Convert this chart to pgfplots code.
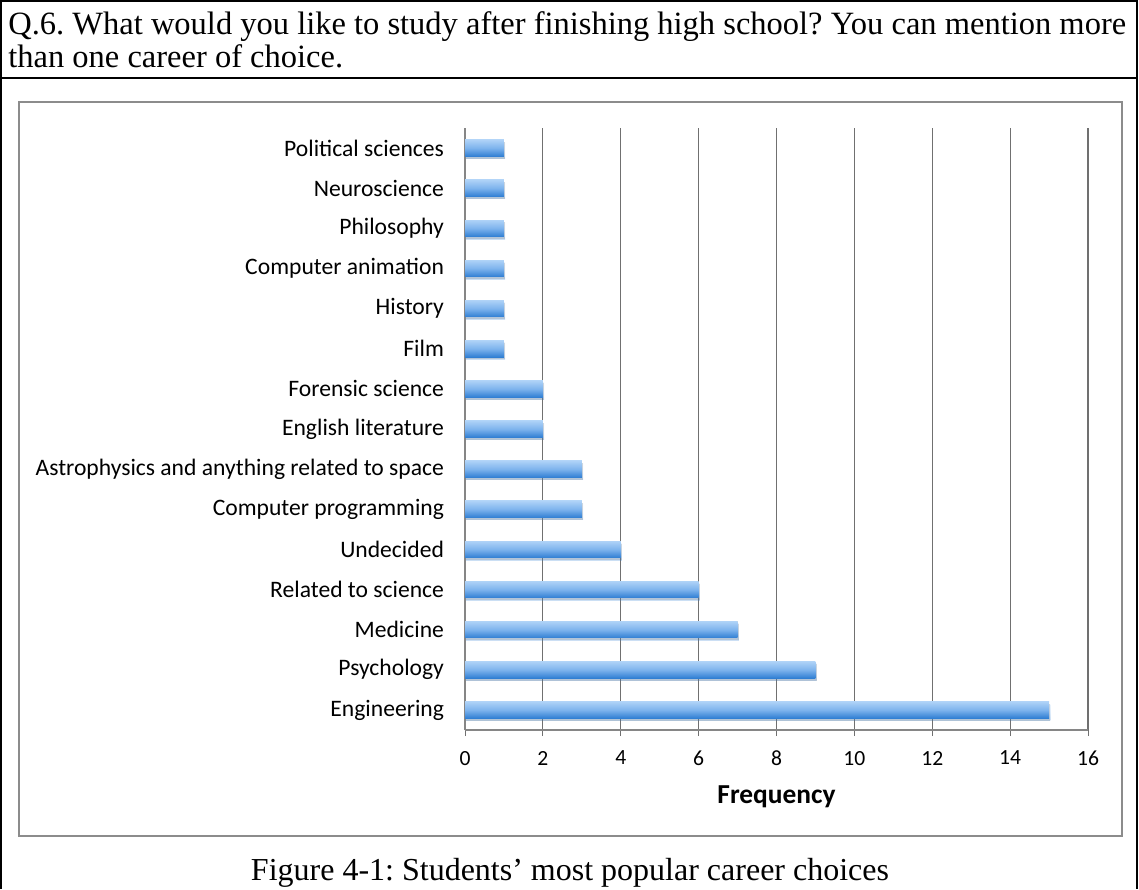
\documentclass[border=0pt]{standalone}
\usepackage{pgfplots}
\pgfplotsset{compat=1.18}
\usetikzlibrary{shadows}
\usepackage{fontspec}
\setmainfont{Liberation Serif}
\newfontfamily\calib{Carlito}
\definecolor{bartop}{HTML}{AED2F7}
\definecolor{barmid}{HTML}{7DB3ED}
\definecolor{barbot}{HTML}{2F7ED3}
\definecolor{gridc}{HTML}{707070}
\definecolor{axc}{HTML}{868686}
\definecolor{framec}{HTML}{8C8C8C}

\begin{document}
\frenchspacing
\begin{tikzpicture}
% frames, 1px = 0.5pt
\begin{scope}[x=0.5pt,y=-0.5pt]
\useasboundingbox (0,0) rectangle (1139,889);
\draw[line width=1pt] (1,889) -- (1,1) -- (1137,1) -- (1137,889);
\draw[line width=1pt] (1,78) -- (1137,78);
\draw[framec, line width=0.8pt] (19,102) rectangle (1122,836);
\node[anchor=base west, inner sep=0, font=\fontsize{16.25}{18}\selectfont] at (8,34)
  {Q.6. What would you like to study after finishing high school? You can mention more};
\node[anchor=base west, inner sep=0, font=\fontsize{16.25}{18}\selectfont] at (8,67)
  {than one career of choice.};
\node[anchor=base, inner sep=0, font=\fontsize{16}{18}\selectfont] at (570,880)
  {Figure 4-1: Students’ most popular career choices};
\end{scope}

\begin{axis}[
  at={(232.5pt,-365pt)}, anchor=south west,
  scale only axis, width=311.5pt, height=301pt,
  xbar, bar width=8.3pt, bar shift=0pt,
  xmin=0, xmax=16, xtick={0,2,...,16},
  ymin=0.5, ymax=15.5,
  ytick={1,...,15},
  yticklabels={Engineering,Psychology,Medicine,Related to science,Undecided,Computer programming,Astrophysics and anything related to space,English literature,Forensic science,Film,History,Computer animation,Philosophy,Neuroscience,Political sciences},
  minor ytick={0.5,1.5,...,15.5},
  major tick length=3pt,
  ytick style={draw=none},
  minor y tick style={axc, line width=0.5pt},
  minor tick length=3pt,
  tick align=outside,
  x tick style={gridc, line width=0.5pt},
  xmajorgrids, major grid style={gridc, line width=0.6pt},
  axis x line*=bottom, axis y line*=left,
  axis line style={axc, line width=0.6pt, -},
  xlabel={\bfseries Frequency},
  xlabel style={font=\calib\fontsize{13.7}{15}\selectfont, yshift=-3pt},
  xticklabel style={font=\calib\fontsize{10.8}{12}\selectfont, yshift=-4pt},
  yticklabel style={font=\calib\fontsize{11.8}{13}\selectfont, xshift=-4pt},
  /pgf/number format/assume math mode=true,
  every axis plot/.append style={draw=none, top color=bartop, bottom color=barbot, middle color=barmid,
    drop shadow={shadow xshift=0.6pt, shadow yshift=-1.2pt, opacity=0.25, fill=black!60}},
]
\addplot coordinates {(15,1)};
\addplot coordinates {(9,2)};
\addplot coordinates {(7,3)};
\addplot coordinates {(6,4)};
\addplot coordinates {(4,5)};
\addplot coordinates {(3,6)};
\addplot coordinates {(3,7)};
\addplot coordinates {(2,8)};
\addplot coordinates {(2,9)};
\addplot coordinates {(1,10)};
\addplot coordinates {(1,11)};
\addplot coordinates {(1,12)};
\addplot coordinates {(1,13)};
\addplot coordinates {(1,14)};
\addplot coordinates {(1,15)};
\end{axis}
\end{tikzpicture}
\end{document}
